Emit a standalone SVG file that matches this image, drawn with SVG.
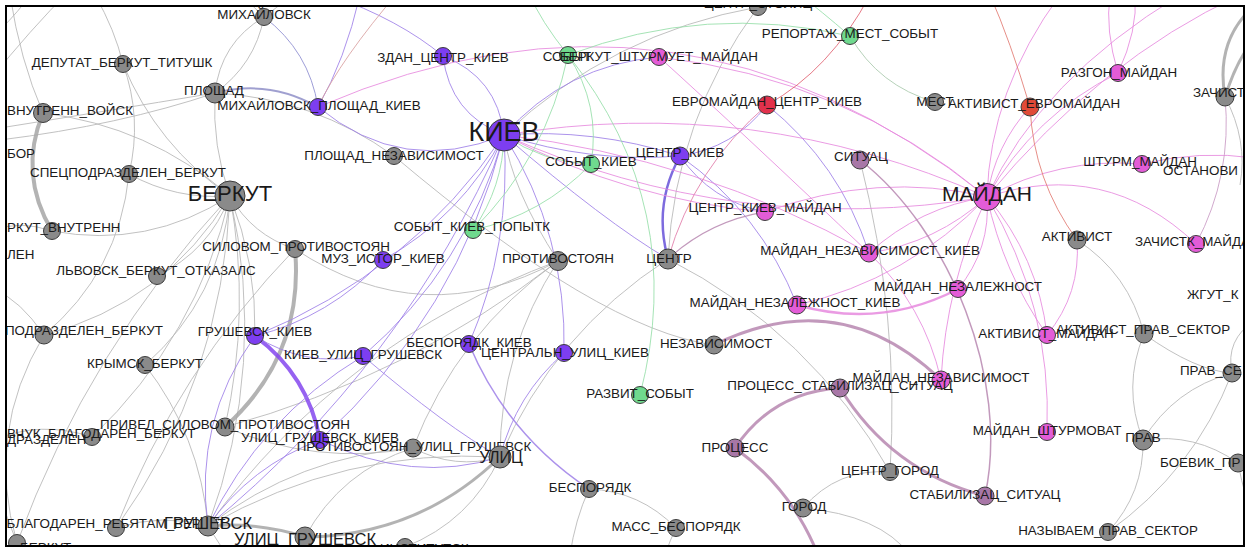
<svg xmlns="http://www.w3.org/2000/svg" width="1245" height="547" viewBox="0 0 1245 547">
<defs>
<clipPath id="inner"><rect x="7" y="7" width="1236" height="538"/></clipPath>
<style>
path{fill:none;stroke-opacity:.85}
.eg{stroke:#b6b6b6;stroke-width:1}
.ep{stroke:#9d7fe8;stroke-width:1}
.em{stroke:#e68ade;stroke-width:1}
.ee{stroke:#95dea8;stroke-width:1}
.er{stroke:#e27a72;stroke-width:1}
.ev{stroke:#b787b0;stroke-width:1.2}
circle{stroke:#3c3c3c;stroke-width:1}
.g{fill:#8a8a8a}.p{fill:#7d3ef0}.e{fill:#6fd98e}.m{fill:#e35cd7}.v{fill:#a877a7}.r1{fill:#e2314c}.r2{fill:#e04a38}
text{font-family:"Liberation Sans",Arial,sans-serif;font-size:13.4px;fill:#1a1a1a;text-anchor:middle}
text.s{text-anchor:start}
text.big{font-size:27px}
text.mid{font-size:16.5px}
</style>
</defs>
<rect x="0" y="0" width="1245" height="547" fill="#ffffff"/>
<g clip-path="url(#inner)">
<g id="connectors">
<path class="eg" d="M215 93 Q220.5 42.8 264 17"/>
<path class="eg" d="M215 93 Q254.7 64.8 264 17"/>
<path class="eg" d="M215 93 Q120 125 0 140"/>
<path class="eg" d="M215 93 Q100 112 0 128"/>
<path class="eg" d="M215 93 Q212 146 230 196"/>
<path class="eg" d="M215 93 Q314 98 394 156"/>
<path class="eg" d="M264 17 Q250 5 240 -10"/>
<path class="eg" d="M264 17 Q282 3 300 -10"/>
<path class="eg" d="M123 64 Q157 146 230 196"/>
<path class="eg" d="M123 64 Q142.5 118 129 174"/>
<path class="eg" d="M123 64 Q115 30 95 -5"/>
<path class="eg" d="M-10 80 Q30 30 70 -10"/>
<path class="eg" d="M0 30 Q20 10 30 -5"/>
<path class="eg" d="M43 113 Q18 174 52 231" style="stroke:#a6a6a6;stroke-width:4"/>
<path class="eg" d="M43 113 Q149 126 230 196"/>
<path class="eg" d="M43 113 Q20 60 10 -5"/>
<path class="eg" d="M129 174 Q176 200 230 196"/>
<path class="eg" d="M129 174 Q119 272 44 335"/>
<path class="eg" d="M52 231 Q148 249 230 196"/>
<path class="eg" d="M52 231 Q20 220 -5 230"/>
<path class="eg" d="M230 196 Q209.5 250.6 157 276"/>
<path class="eg" d="M230 196 Q221 298 145 365"/>
<path class="eg" d="M230 196 Q165 303 44 335"/>
<path class="eg" d="M230 196 Q197 337 92 437"/>
<path class="eg" d="M230 196 Q223 379 116 528"/>
<path class="eg" d="M230 196 Q268 364 208 526"/>
<path class="eg" d="M230 196 Q251 312 225 427"/>
<path class="eg" d="M230 196 Q252 235 295 249"/>
<path class="eg" d="M230 196 Q256.5 263.5 255 336"/>
<path class="eg" d="M295 249 Q304.5 355.5 225 427" style="stroke:#a6a6a6;stroke-width:4"/>
<path class="eg" d="M295 249 Q423 334 558 261"/>
<path class="eg" d="M44 335 Q-15 433 17 543"/>
<path class="eg" d="M44 335 Q20 300 -5 290"/>
<path class="eg" d="M145 365 Q200 436 208 526"/>
<path class="eg" d="M92 437 Q40 420 -5 440"/>
<path class="eg" d="M116 528 Q162 513 208 526"/>
<path class="eg" d="M208 526 Q257.6 521.8 305 537" style="stroke:#a6a6a6;stroke-width:3"/>
<path class="eg" d="M500 457 Q418.5 536 305 537" style="stroke:#a6a6a6;stroke-width:3"/>
<path class="eg" d="M500 457 Q344 448 208 526"/>
<path class="eg" d="M500 457 Q455 470 413 448"/>
<path class="eg" d="M500 457 Q500 350 558 261"/>
<path class="eg" d="M500 457 Q470.5 521 405 547"/>
<path class="eg" d="M500 457 Q554 333 668 259"/>
<path class="eg" d="M413 448 Q457.5 333 558 261"/>
<path class="eg" d="M225 427 Q316 466 413 448"/>
<path class="eg" d="M208 526 Q343 341 558 261"/>
<path class="eg" d="M208 526 Q299 456 413 448"/>
<path class="eg" d="M305 537 Q341 471 413 448"/>
<path class="eg" d="M589 489 Q640 491 676 528"/>
<path class="eg" d="M676 528 Q670 540 665 555"/>
<path class="eg" d="M589 489 Q575 520 570 555"/>
<path class="eg" d="M668 259 Q811 332 890 472"/>
<path class="eg" d="M758 7 Q675 119.5 668 259"/>
<path class="eg" d="M758 7 Q612 33 504 135"/>
<path class="eg" d="M558 261 Q512 190 504 135"/>
<path class="eg" d="M394 156 Q600 330 714 345"/>
<path class="eg" d="M803 508 Q837.5 468 890 472"/>
<path class="eg" d="M803 508 Q880 515 910 555"/>
<path class="eg" d="M860 160 Q900 318 890 472"/>
<path class="eg" d="M1077 240 Q1129 273.6 1144 334"/>
<path class="eg" d="M1143 440 Q1122 387 1144 334"/>
<path class="eg" d="M1143 440 Q1174 389 1232 373"/>
<path class="eg" d="M1143 440 Q1195 432.5 1238 463"/>
<path class="eg" d="M1143 440 Q1144 493 1108 532"/>
<path class="eg" d="M1232 373 Q1194 471 1108 532"/>
<path class="eg" d="M1232 373 Q1225 340 1255 320"/>
<path class="eg" d="M1144 334 Q1196 371 1232 373"/>
<path class="eg" d="M1238 463 Q1245 500 1255 520"/>
<path class="eg" d="M1225 97 Q1215 40 1255 5" style="stroke:#a6a6a6;stroke-width:3"/>
<path class="eg" d="M1225 97 Q1240 50 1260 35" style="stroke:#a6a6a6;stroke-width:3"/>
<path class="eg" d="M1225 97 Q1248 140 1240 185"/>
<path class="eg" d="M850 36 Q879 86 935 102" style="stroke:#a9c9ad"/>
<path class="eg" d="M558 261 Q408 377 225 427"/>
<path class="eg" d="M116 528 Q177.6 370.6 295 249"/>
<path class="eg" d="M17 543 Q88.8 348 230 196"/>
<path class="eg" d="M17 543 Q0 500 -5 480"/>
<path class="eg" d="M208 526 Q220 545 230 560"/>
<path class="ep" d="M504 135 Q403 177 318 107"/>
<path class="ep" d="M318 107 Q345 60 360 -5"/>
<path class="ep" d="M504 135 Q450 114 443 56"/>
<path class="ep" d="M504 135 Q497 77 443 56"/>
<path class="ep" d="M443 56 Q400 20 330 -5"/>
<path class="ep" d="M504 135 Q594 128 680 156"/>
<path class="ep" d="M504 135 Q590 163 680 156"/>
<path class="ep" d="M504 135 Q462 216 383 260"/>
<path class="ep" d="M504 135 Q409.5 273 255 336"/>
<path class="ep" d="M504 135 Q466.5 266.5 363 356"/>
<path class="ep" d="M504 135 Q458 315 320 440"/>
<path class="ep" d="M504 135 Q511.5 244 469 344"/>
<path class="ep" d="M504 135 Q567 235 564 353"/>
<path class="ep" d="M504 135 Q403 366 208 526"/>
<path class="ep" d="M255 336 Q308 375 320 440" style="stroke:#8447ee;stroke-width:4"/>
<path class="ep" d="M255 336 Q305 367.6 363 356"/>
<path class="ep" d="M208 526 Q193.5 421.6 255 336"/>
<path class="ep" d="M208 526 Q260 418 363 356"/>
<path class="ep" d="M208 526 Q251 466 320 440"/>
<path class="ep" d="M320 440 Q413 484.5 500 457"/>
<path class="ep" d="M363 356 Q446.5 427 500 457"/>
<path class="ep" d="M469 344 Q507 434.5 589 489" style="stroke-width:1.5"/>
<path class="ep" d="M564 353 Q516 395 500 457"/>
<path class="ep" d="M383 260 Q330 317 255 336"/>
<path class="ep" d="M504 135 Q605 222 668 259"/>
<path class="ep" d="M668 259 Q653 205 680 156" style="stroke:#6651d8;stroke-width:2.5"/>
<path class="ep" d="M680 156 Q711 201 765 212"/>
<path class="ep" d="M680 156 Q761 213 797 305"/>
<path class="ep" d="M767 105 Q734 148 680 156"/>
<path class="ep" d="M504 135 Q566 65 659 57"/>
<path class="ep" d="M767 105 Q840 164 869 253"/>
<path class="ep" d="M264 17 Q309 51 318 107" style="stroke:#8c8cd0"/>
<path class="ep" d="M215 93 Q269 79 318 107" style="stroke:#8f8fc8;stroke-width:2"/>
<path class="em" d="M987 197 Q755 93.5 504 135"/>
<path class="em" d="M987 197 Q736 238.5 504 135"/>
<path class="em" d="M318 107 Q679.5 -48.7 987 197"/>
<path class="em" d="M987 197 Q878 171 765 212"/>
<path class="em" d="M987 197 Q936 243 869 253"/>
<path class="em" d="M987 197 Q920 207 869 253"/>
<path class="em" d="M987 197 Q991 249 958 289"/>
<path class="em" d="M987 197 Q908 279.5 797 305"/>
<path class="em" d="M987 197 Q1038 257 1047 335"/>
<path class="em" d="M987 197 Q1003 272 1047 335"/>
<path class="em" d="M987 197 Q946 284 941 380"/>
<path class="em" d="M987 197 Q1052 305.5 1047 432"/>
<path class="em" d="M987 197 Q1105.6 158 1196 244"/>
<path class="em" d="M987 197 Q1059.5 157 1142 164"/>
<path class="em" d="M1142 164 Q1200 150 1255 158"/>
<path class="em" d="M987 197 Q1034 115 1118 73"/>
<path class="em" d="M1118 73 Q1105 30 1110 -5"/>
<path class="em" d="M1118 73 Q1138 30 1135 -5"/>
<path class="em" d="M987 197 Q995 145.5 1030 107"/>
<path class="em" d="M987 197 Q990 90 1060 -5"/>
<path class="em" d="M987 197 Q1040 80 1180 -5"/>
<path class="em" d="M987 197 Q1100 60 1240 -5"/>
<path class="em" d="M987 197 Q844 78 659 57"/>
<path class="em" d="M659 57 Q744 134 869 253"/>
<path class="em" d="M765 212 Q627 199.5 504 135"/>
<path class="em" d="M869 253 Q698 157.5 504 135"/>
<path class="em" d="M797 305 Q881 329 958 289" style="stroke-width:2.5"/>
<path class="em" d="M869 253 Q924 305.7 941 380"/>
<path class="em" d="M1077 240 Q1081 293.5 1047 335"/>
<path class="em" d="M767 105 Q694.5 167 668 259" style="stroke:#e07aa8"/>
<path class="em" d="M1196 244 Q1232.5 175 1225 97" style="stroke:#c99ac4"/>
<path class="er" d="M1030 107 Q1033.5 180.5 1077 240"/>
<path class="er" d="M1030 107 Q1010 40 990 -5"/>
<path class="er" d="M767 105 Q830 70 870 -5" style="stroke:#e06070"/>
<path class="er" d="M318 107 Q340 60 400 -10" style="stroke:#d8a0a0"/>
<path class="ee" d="M568 55 Q601 105 591 164"/>
<path class="ee" d="M568 55 Q546.5 157 473 230"/>
<path class="ee" d="M568 55 Q540 20 530 -5"/>
<path class="ee" d="M568 55 Q689 207 640 395"/>
<path class="ee" d="M568 55 Q706 3 850 36"/>
<path class="ee" d="M591 164 Q542 215 473 230"/>
<path class="ee" d="M504 135 Q543 162.5 591 164"/>
<path class="ee" d="M504 135 Q503 187 473 230"/>
<path class="ee" d="M850 36 Q820 10 800 -5"/>
<path class="ev" d="M714 345 Q840 283 941 380" style="stroke-width:3"/>
<path class="ev" d="M735 448 Q772.5 392 840 388" style="stroke-width:3"/>
<path class="ev" d="M735 448 Q794 491 820 560" style="stroke-width:3"/>
<path class="ev" d="M840 388 Q891 471 985 496" style="stroke-width:3"/>
<path class="ev" d="M860 160 C950 230 1010 380 985 496" style="stroke-width:1.5"/>
<path class="ev" d="M668 259 Q709.5 221 765 212"/>
</g>
<g id="n-mihailovsk"><circle class="g" cx="264" cy="17" r="8.5"/><text x="264" y="19">МИХАЙЛОВСК</text></g>
<g id="n-deputat"><circle class="g" cx="123" cy="64" r="8.5"/><text x="122" y="67">ДЕПУТАТ_БЕРКУТ_ТИТУШК</text></g>
<g id="n-ploshad"><circle class="g" cx="215" cy="93" r="10"/><text x="214" y="95">ПЛОЩАД</text></g>
<g id="n-mih-pl-kiev"><circle class="p" cx="318" cy="107" r="8.5"/><text x="319" y="110">МИХАЙЛОВСК_ПЛОЩАД_КИЕВ</text></g>
<g id="n-zdan"><circle class="p" cx="443" cy="56" r="8.5"/><text x="443" y="62">ЗДАН_ЦЕНТР_КИЕВ</text></g>
<g id="n-vnutrenn-voisk"><circle class="g" cx="43" cy="113" r="9.5"/><text class="s" x="7" y="115">ВНУТРЕНН_ВОЙСК</text></g>
<g id="n-bor"><text class="s" x="7" y="158">БОР</text></g>
<g id="n-specpodr"><circle class="g" cx="129" cy="174" r="8.5"/><text x="128" y="177">СПЕЦПОДРАЗДЕЛЕН_БЕРКУТ</text></g>
<g id="n-ploshad-nez"><circle class="g" cx="394" cy="156" r="8.5"/><text x="394" y="160">ПЛОЩАД_НЕЗАВИСИМОСТ</text></g>
<g id="n-berkut"><circle class="g" cx="230" cy="196" r="15"/><text x="230" y="201" style="font-size:22px">БЕРКУТ</text></g>
<g id="n-berkut-vnutrenn"><circle class="g" cx="52" cy="231" r="8.5"/><text class="s" x="7" y="232">РКУТ_ВНУТРЕНН</text></g>
<g id="n-len"><text class="s" x="7" y="259">ЛЕН</text></g>
<g id="n-lvovsk"><circle class="g" cx="157" cy="276" r="8.5"/><text x="156" y="275">ЛЬВОВСК_БЕРКУТ_ОТКАЗАЛС</text></g>
<g id="n-silovom"><circle class="g" cx="295" cy="249" r="8.5"/><text x="296" y="251">СИЛОВОМ_ПРОТИВОСТОЯН</text></g>
<g id="n-muz"><circle class="p" cx="383" cy="260" r="8.5"/><text x="383" y="263">МУЗ_ИСТОР_КИЕВ</text></g>
<g id="n-sobyt-kiev-popytk"><circle class="e" cx="473" cy="230" r="8.5"/><text x="472" y="231">СОБЫТ_КИЕВ_ПОПЫТК</text></g>
<g id="n-protivostoyan"><circle class="g" cx="558" cy="261" r="9.5"/><text x="558" y="263">ПРОТИВОСТОЯН</text></g>
<g id="n-centr"><circle class="g" cx="668" cy="259" r="10"/><text x="669" y="263">ЦЕНТР</text></g>
<g id="n-sobyt"><circle class="e" cx="568" cy="55" r="8.5"/><text x="567" y="61">СОБЫТ</text></g>
<g id="n-berkut-shturm"><circle class="m" cx="659" cy="57" r="8.5"/><text x="659" y="61">БЕРКУТ_ШТУРМУЕТ_МАЙДАН</text></g>
<g id="n-sobyt-kiev"><circle class="e" cx="591" cy="164" r="8.5"/><text x="591" y="166">СОБЫТ_КИЕВ</text></g>
<g id="n-centr-kiev"><circle class="p" cx="680" cy="156" r="9"/><text x="680" y="157">ЦЕНТР_КИЕВ</text></g>
<g id="n-kiev"><circle class="p" cx="504" cy="135" r="16"/><text class="big" x="504" y="141">КИЕВ</text></g>
<g id="n-centr-stolic"><circle class="g" cx="758" cy="7" r="8.5"/><text x="758" y="8">ЦЕНТР_СТОЛИЦ</text></g>
<g id="n-reportazh"><circle class="e" cx="850" cy="36" r="8.5"/><text x="850" y="38">РЕПОРТАЖ_МЕСТ_СОБЫТ</text></g>
<g id="n-evromaidan-centr"><circle class="r1" cx="767" cy="105" r="9"/><text x="767" y="106">ЕВРОМАЙДАН_ЦЕНТР_КИЕВ</text></g>
<g id="n-mest"><circle class="g" cx="935" cy="102" r="8.5"/><text x="935" y="106">МЕСТ</text></g>
<g id="n-aktivist-evro"><circle class="r2" cx="1030" cy="107" r="9"/><text x="1034" y="108">АКТИВИСТ_ЕВРОМАЙДАН</text></g>
<g id="n-razgon"><circle class="m" cx="1118" cy="73" r="8.5"/><text x="1119" y="77">РАЗГОН_МАЙДАН</text></g>
<g id="n-zachist"><circle class="g" cx="1225" cy="97" r="9"/><text class="s" x="1193" y="97">ЗАЧИСТ</text></g>
<g id="n-situac"><circle class="v" cx="860" cy="160" r="9"/><text x="861" y="161">СИТУАЦ</text></g>
<g id="n-shturm-maidan"><circle class="m" cx="1142" cy="164" r="8.5"/><text x="1140" y="166">ШТУРМ_МАЙДАН</text></g>
<g id="n-ostanovi"><text class="s" x="1163" y="175">ОСТАНОВИ</text></g>
<g id="n-centr-kiev-maidan"><circle class="m" cx="765" cy="212" r="8.5"/><text x="765" y="212">ЦЕНТР_КИЕВ_МАЙДАН</text></g>
<g id="n-aktivist"><circle class="g" cx="1077" cy="240" r="9"/><text x="1077" y="241">АКТИВИСТ</text></g>
<g id="n-zachistk-maidan"><circle class="m" cx="1196" cy="244" r="8.5"/><text class="s" x="1135" y="246">ЗАЧИСТК_МАЙДА</text></g>
<g id="n-maidan-nez-kiev"><circle class="m" cx="869" cy="253" r="9"/><text x="870" y="255">МАЙДАН_НЕЗАВИСИМОСТ_КИЕВ</text></g>
<g id="n-maidan-nezal"><circle class="m" cx="958" cy="289" r="8.5"/><text x="958" y="291">МАЙДАН_НЕЗАЛЕЖНОСТ</text></g>
<g id="n-maidan"><circle class="m" cx="987" cy="197" r="13.5"/><text x="987" y="201" style="font-size:21px">МАЙДАН</text></g>
<g id="n-zhgut"><text class="s" x="1187" y="299">ЖГУТ_К</text></g>
<g id="n-maidan-nezal-kiev"><circle class="m" cx="797" cy="305" r="9"/><text x="795" y="307">МАЙДАН_НЕЗАЛЕЖНОСТ_КИЕВ</text></g>
<g id="n-aktivist-prav"><circle class="g" cx="1144" cy="334" r="9"/><text x="1143" y="334">АКТИВИСТ_ПРАВ_СЕКТОР</text></g>
<g id="n-aktivist-maidan"><circle class="m" cx="1047" cy="335" r="8.5"/><text x="1046" y="338">АКТИВИСТ_МАЙДАН</text></g>
<g id="n-podrazdelen"><circle class="g" cx="44" cy="335" r="9"/><text class="s" x="5" y="335">ПОДРАЗДЕЛЕН_БЕРКУТ</text></g>
<g id="n-grushevsk-kiev"><circle class="p" cx="255" cy="336" r="8.5"/><text x="255" y="336">ГРУШЕВСК_КИЕВ</text></g>
<g id="n-besporyadk-kiev"><circle class="p" cx="469" cy="344" r="8.5"/><text x="469" y="347">БЕСПОРЯДК_КИЕВ</text></g>
<g id="n-nezavisimost"><circle class="g" cx="714" cy="345" r="9"/><text x="716" y="348">НЕЗАВИСИМОСТ</text></g>
<g id="n-kiev-ulic-grush"><circle class="p" cx="363" cy="356" r="8.5"/><text x="363" y="359">КИЕВ_УЛИЦ_ГРУШЕВСК</text></g>
<g id="n-centraln"><circle class="p" cx="564" cy="353" r="8.5"/><text x="565" y="357">ЦЕНТРАЛЬН_УЛИЦ_КИЕВ</text></g>
<g id="n-krymsk"><circle class="g" cx="145" cy="365" r="8.5"/><text x="145" y="368">КРЫМСК_БЕРКУТ</text></g>
<g id="n-prav-sektor"><circle class="g" cx="1232" cy="373" r="9"/><text class="s" x="1180" y="375">ПРАВ_СЕ</text></g>
<g id="n-razvit"><circle class="e" cx="640" cy="395" r="8.5"/><text x="640" y="398">РАЗВИТ_СОБЫТ</text></g>
<g id="n-maidan-nezav"><circle class="m" cx="941" cy="380" r="9"/><text x="941" y="382">МАЙДАН_НЕЗАВИСИМОСТ</text></g>
<g id="n-process-stab"><circle class="v" cx="840" cy="388" r="9"/><text x="840" y="390">ПРОЦЕСС_СТАБИЛИЗАЦ_СИТУАЦ</text></g>
<g id="n-privel"><circle class="g" cx="225" cy="427" r="9"/><text x="225" y="429">ПРИВЕЛ_СИЛОВОМ_ПРОТИВОСТОЯН</text></g>
<g id="n-vchuk"><circle class="g" cx="92" cy="437" r="8.5"/><text class="s" x="7" y="438">ВЧУК_БЛАГОДАРЕН_БЕРКУТ</text></g>
<g id="n-drazdelen"><text class="s" x="7" y="444">ДРАЗДЕЛЕН</text></g>
<g id="n-ulic-grush-kiev"><circle class="p" cx="320" cy="440" r="8.5"/><text x="320" y="442">УЛИЦ_ГРУШЕВСК_КИЕВ</text></g>
<g id="n-protiv-ulic"><circle class="g" cx="413" cy="448" r="9"/><text x="414" y="451">ПРОТИВОСТОЯН_УЛИЦ_ГРУШЕВСК</text></g>
<g id="n-maidan-shturmovat"><circle class="m" cx="1047" cy="432" r="8.5"/><text x="1047" y="435">МАЙДАН_ШТУРМОВАТ</text></g>
<g id="n-prav"><circle class="g" cx="1143" cy="440" r="10"/><text x="1143" y="442">ПРАВ</text></g>
<g id="n-process"><circle class="v" cx="735" cy="448" r="9"/><text x="735" y="452">ПРОЦЕСС</text></g>
<g id="n-ulic"><circle class="g" cx="500" cy="457" r="11"/><text class="mid" x="501" y="463" style="font-size:16px">УЛИЦ</text></g>
<g id="n-boevik"><circle class="g" cx="1238" cy="463" r="9"/><text class="s" x="1160" y="467">БОЕВИК_ПР</text></g>
<g id="n-centr-gorod"><circle class="g" cx="890" cy="472" r="8.5"/><text x="890" y="475">ЦЕНТР_ГОРОД</text></g>
<g id="n-besporyadk"><circle class="g" cx="589" cy="489" r="8.5"/><text x="590" y="492">БЕСПОРЯДК</text></g>
<g id="n-stabilizac"><circle class="v" cx="985" cy="496" r="9"/><text x="985" y="499">СТАБИЛИЗАЦ_СИТУАЦ</text></g>
<g id="n-gorod"><circle class="g" cx="803" cy="508" r="9"/><text x="804" y="511">ГОРОД</text></g>
<g id="n-blagodaren-rebyatam"><circle class="g" cx="116" cy="528" r="8.5"/><text x="116" y="528">БЛАГОДАРЕН_РЕБЯТАМ_БЕРКУТ</text></g>
<g id="n-grushevsk"><circle class="g" cx="208" cy="526" r="10"/><text class="mid" x="208" y="529">ГРУШЕВСК</text></g>
<g id="n-mass-besporyadk"><circle class="g" cx="676" cy="528" r="8.5"/><text x="676" y="531">МАСС_БЕСПОРЯДК</text></g>
<g id="n-nazyvaem"><circle class="g" cx="1108" cy="532" r="8.5"/><text x="1108" y="535">НАЗЫВАЕМ_ПРАВ_СЕКТОР</text></g>
<g id="n-ulic-grush"><circle class="g" cx="305" cy="537" r="10"/><text class="mid" x="305" y="545">УЛИЦ_ГРУШЕВСК</text></g>
<g id="n-berkut-bl"><circle class="g" cx="17" cy="543" r="8.5"/><text class="s" x="20" y="552">БЕРКУТ</text></g>
<g id="n-institutsk"><circle class="g" cx="405" cy="547" r="8.5"/><text class="s" x="380" y="553">ИНСТИТУТСК</text></g>
</g>
<rect x="6" y="6" width="1238" height="540" fill="none" stroke="#000" stroke-width="2"/>
</svg>
